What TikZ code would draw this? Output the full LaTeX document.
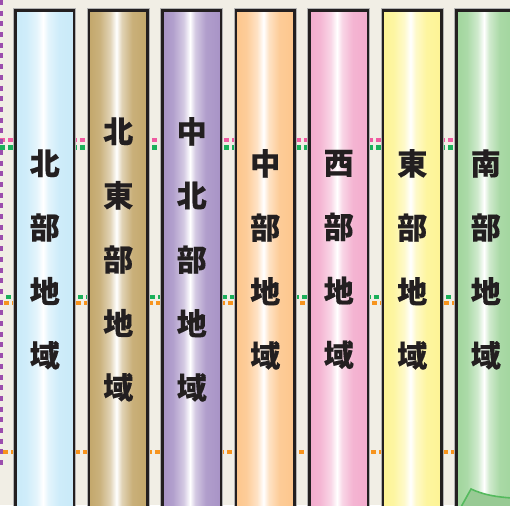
\documentclass[tikz,border=0pt]{standalone}
\usepackage{fontspec}
\newfontfamily\cjk{Noto Sans CJK JP}[BoldFeatures={FakeBold=0.3}]
\definecolor{bgc}{HTML}{F1EEE5}
\definecolor{inkc}{HTML}{231F20}
\definecolor{cblue}{HTML}{C9EAF9}
\definecolor{cgold}{HTML}{C3A76B}
\definecolor{cpurp}{HTML}{A893C6}
\definecolor{corng}{HTML}{FDC68C}
\definecolor{cpink}{HTML}{F3ACCD}
\definecolor{cyell}{HTML}{FDF495}
\definecolor{cgren}{HTML}{A0D59C}
\definecolor{dpinkc}{HTML}{EF5BA1}
\definecolor{dgreenc}{HTML}{1BB05A}
\definecolor{dorangec}{HTML}{F7941D}
\definecolor{dpurplec}{HTML}{9B4DAD}
\definecolor{shapec}{HTML}{55BA5E}
\newcommand\mkshade[2]{\pgfdeclarehorizontalshading{#1}{100bp}{color(0bp)=(#2); color(25bp)=(#2); color(34bp)=(#2!88!white); color(43bp)=(#2!50!white); color(48.5bp)=(white); color(53bp)=(#2!50!white); color(62bp)=(#2!90!white); color(75bp)=(#2); color(100bp)=(#2)}}
\mkshade{shblue}{cblue}
\mkshade{shgold}{cgold}
\mkshade{shpurp}{cpurp}
\mkshade{shorng}{corng}
\mkshade{shpink}{cpink}
\mkshade{shyell}{cyell}
\mkshade{shgren}{cgren}
\newcommand\regioncol[4]{%
  \pgfmathsetmacro\xl{15.5+73.5*#1}%
  \pgfmathsetmacro\xr{\xl+58.5}%
  \draw[halo] (\xl,10.5) rectangle (\xr,530);
  \shadedraw[shading=#2, colbox] (\xl,10.5) rectangle (\xr,530);
  \node[lbl] (#3) at ({(\xl+\xr)/2},259.5) {#4};
}
\begin{document}
\begin{tikzpicture}[x=1pt,y=-1pt,
  colbox/.style={line width=2.6pt, draw=inkc},
  halo/.style={line width=4.2pt, draw=black!30},
  lbl/.style={font=\cjk\bfseries\fontsize{30}{64}\selectfont, text=inkc, align=center, inner sep=0pt},
  dashh/.style={line width=4.5pt, dash pattern=on 5pt off 3pt},
  dpurple/.style={draw=dpurplec, line width=3pt, dash pattern=on 5pt off 5.7pt}]
\useasboundingbox (0,0) rectangle (510,505);
\clip (0,0) rectangle (510,505);
\fill[bgc] (0,0) rectangle (510,505);
% dashed boundary lines
\coordinate (pkA) at (0,140);   \coordinate (pkB) at (510,140);
\coordinate (gnA) at (0,147.5); \coordinate (gnB) at (510,147.5);
\coordinate (gmA) at (6,297);   \coordinate (gmB) at (510,297);
\coordinate (orA) at (4,303);   \coordinate (orB) at (510,303);
\coordinate (obA) at (3,452);   \coordinate (obB) at (510,452);
\coordinate (puA) at (1.5,0);   \coordinate (puB) at (1.5,466);
\draw[dashh, draw=dpinkc] (pkA) -- (pkB);
\draw[dashh, draw=dgreenc] (gnA) -- (gnB);
\draw[dashh, draw=dgreenc] (gmA) -- (gmB);
\draw[dashh, draw=dorangec] (orA) -- (orB);
\draw[dashh, draw=dorangec] (obA) -- (obB);
\draw[dpurple] (puA) -- (puB);
% columns
\regioncol{0}{shblue}{c1}{北\\部\\地\\域}
\regioncol{1}{shgold}{c2}{北\\東\\部\\地\\域}
\regioncol{2}{shpurp}{c3}{中\\北\\部\\地\\域}
\regioncol{3}{shorng}{c4}{中\\部\\地\\域}
\regioncol{4}{shpink}{c5}{西\\部\\地\\域}
\regioncol{5}{shyell}{c6}{東\\部\\地\\域}
\regioncol{6}{shgren}{c7}{南\\部\\地\\域}
% green shape at bottom right
\draw[draw=shapec, line width=1.6pt, fill=cgren!95!black]
  (461,507) -- (471,489) .. controls (484,495) and (497,497) .. (512,498) -- (512,507) -- cycle;
\end{tikzpicture}
\end{document}
